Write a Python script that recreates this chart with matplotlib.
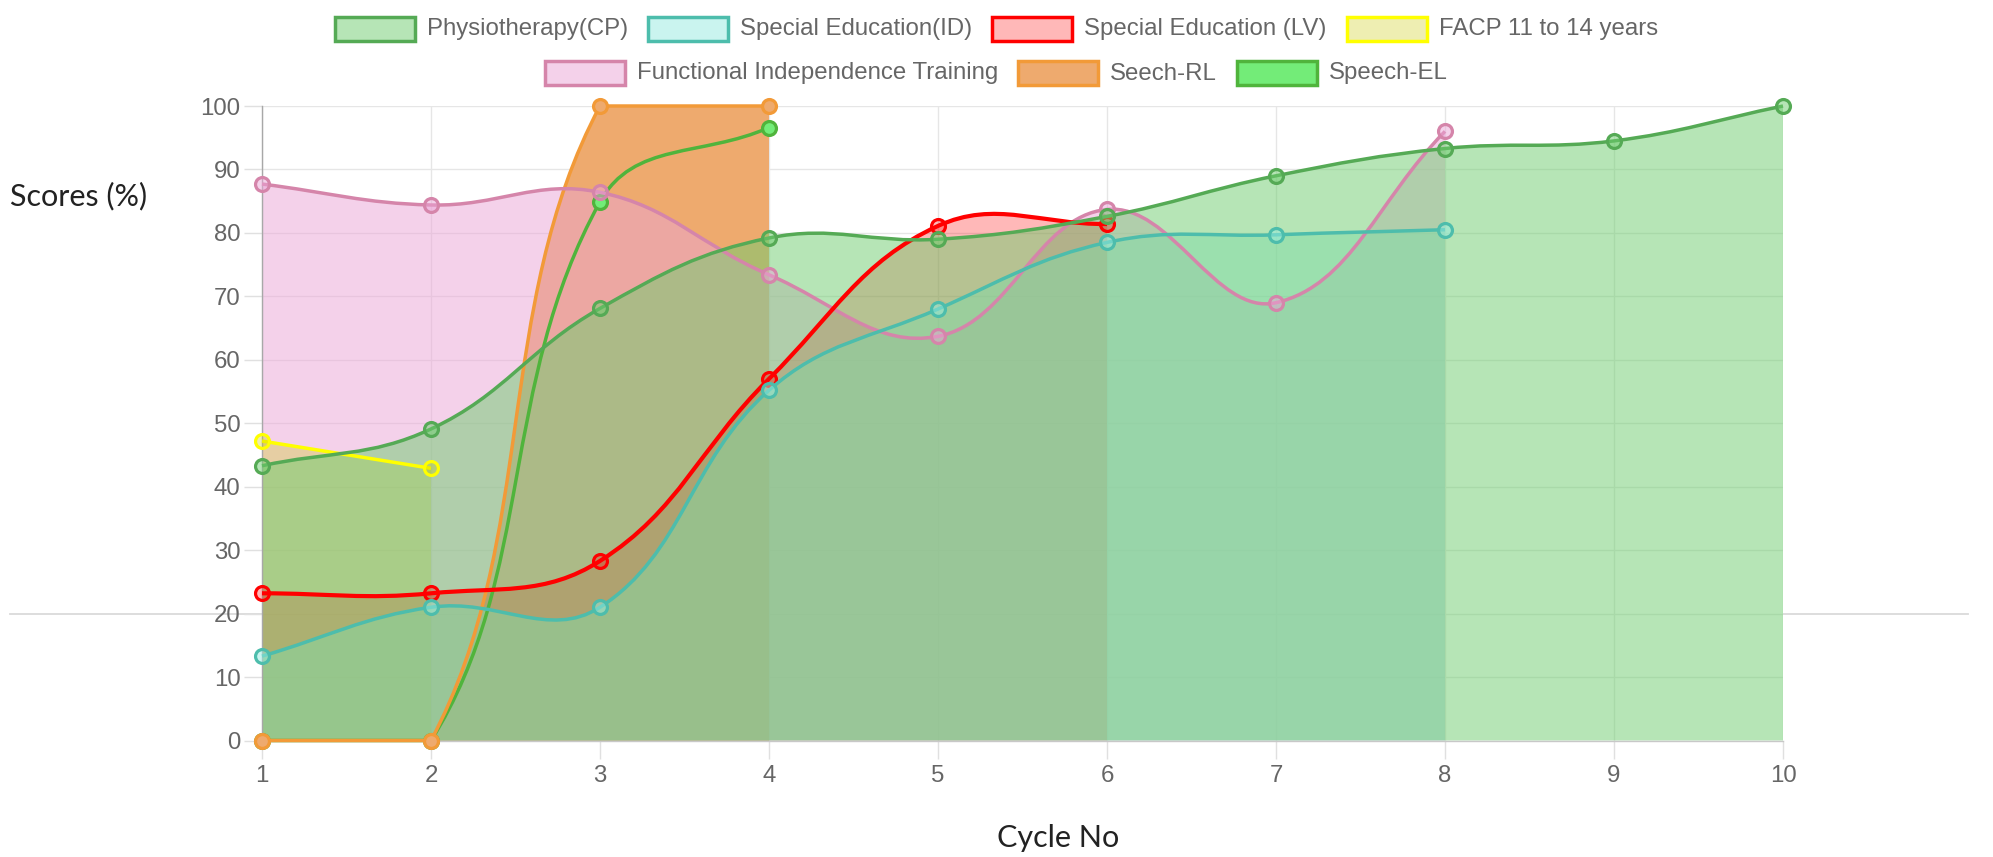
import matplotlib
matplotlib.use("Agg")
import matplotlib.pyplot as plt
import matplotlib.font_manager as fm
from matplotlib.path import Path
from matplotlib.patches import PathPatch, Rectangle
from matplotlib.lines import Line2D
import numpy as np

# ---------------- data ----------------
cycles = [1, 2, 3, 4, 5, 6, 7, 8, 9, 10]
physio = [43.3, 49.1, 68.1, 79.2, 79.0, 82.6, 89.0, 93.3, 94.5, 100.0]
spec_id = [13.3, 21.0, 21.0, 55.2, 68.0, 78.5, 79.7, 80.5]
spec_lv = [23.2, 23.2, 28.3, 57.0, 81.1, 81.4]
facp = [47.2, 42.9]
fit = [87.7, 84.4, 86.4, 73.4, 63.7, 83.7, 69.0, 96.0]
seech_rl = [0, 0, 100, 100]
speech_el = [0, 0, 84.9, 96.6]

labels = ["Physiotherapy(CP)", "Special Education(ID)", "Special Education (LV)",
          "FACP 11 to 14 years", "Functional Independence Training", "Seech-RL", "Speech-EL"]
series = [physio, spec_id, spec_lv, facp, fit, seech_rl, speech_el]
line_colors = ["#55aa55", "#4dbdac", "#ff0000", "#ffff00", "#d585aa", "#f29a38", "#50b43c"]
fill_colors = [(110/255, 205/255, 110/255, 0.5),
               (150/255, 235/255, 225/255, 0.5),
               (1.0, 0.0, 0.0, 0.28),
               (200/255, 200/255, 0.0, 0.3),
               (235/255, 165/255, 215/255, 0.5),
               (238/255, 170/255, 110/255, 1.0),
               (115/255, 236/255, 120/255, 1.0)]
y_ticks = [0, 10, 20, 30, 40, 50, 60, 70, 80, 90, 100]

# ---------------- fonts ----------------
names = {f.name for f in fm.fontManager.ttflist}
tick_font = "Liberation Sans" if "Liberation Sans" in names else "DejaVu Sans"
tick_px = 24
tick_pt = tick_px * 72 / 100
title_font = "Lato" if "Lato" in names else "DejaVu Sans"

W, H = 1993, 857
fig = plt.figure(figsize=(W / 100, H / 100), dpi=100)
fig.patch.set_facecolor("white")
L, R, B, T = 262, 1783, 740.5, 106
ax = fig.add_axes([L / W, 1 - B / H, (R - L) / W, (B - T) / H])
ax.set_xlim(1, 10)
ax.set_ylim(0, 100)
ax.set_xticks(cycles)
ax.set_yticks(y_ticks)
ax.set_xticklabels([str(c) for c in cycles], fontfamily=tick_font, fontsize=tick_pt)
ax.set_yticklabels([str(v) for v in y_ticks], fontfamily=tick_font, fontsize=tick_pt)
ax.tick_params(axis="both", length=13, width=1.0, color="#e0e0e0", labelcolor="#666666")
ax.tick_params(axis="y", pad=2.5)
ax.tick_params(axis="x", pad=4.5)
ax.grid(True, color="#e6e6e6", lw=1.0)
ax.set_axisbelow(True)
for s in ["top", "right"]:
    ax.spines[s].set_visible(False)
ax.spines["left"].set_color("#a8a8a8")
ax.spines["left"].set_linewidth(1.0)
ax.spines["bottom"].set_color("#c8c8c8")
ax.spines["bottom"].set_linewidth(1.0)


def chartjs_verts(xs, ys, tension=0.4):
    tr = ax.transData
    pts = tr.transform(np.column_stack([xs, ys]).astype(float))
    ax0, ay0 = tr.transform((1, 0))
    ax1, ay1 = tr.transform((10, 100))
    n = len(pts)
    cps, cns = [], []
    for i in range(n):
        cur = pts[i]
        prev = pts[i - 1] if i > 0 else cur
        nxt = pts[i + 1] if i < n - 1 else cur
        d01 = np.hypot(*(cur - prev))
        d12 = np.hypot(*(nxt - cur))
        tot = d01 + d12
        s01 = d01 / tot if tot else 0
        s12 = d12 / tot if tot else 0
        cp = cur - tension * s01 * (nxt - prev)
        cn = cur + tension * s12 * (nxt - prev)
        for c in (cp, cn):
            c[0] = min(max(c[0], ax0), ax1)
            c[1] = min(max(c[1], ay0), ay1)
        cps.append(cp)
        cns.append(cn)
    verts = [pts[0]]
    codes = [Path.MOVETO]
    for i in range(n - 1):
        verts += [cns[i], cps[i + 1], pts[i + 1]]
        codes += [Path.CURVE4] * 3
    inv = tr.inverted()
    return [tuple(v) for v in inv.transform(np.array(verts))], codes


n_series = len(series)
# fills (drawn last dataset first, first dataset on top)
for k in range(n_series - 1, -1, -1):
    ys = series[k]
    xs = cycles[:len(ys)]
    verts, codes = chartjs_verts(xs, ys)
    fverts = verts + [(xs[-1], 0), (xs[0], 0), verts[0]]
    fcodes = codes + [Path.LINETO, Path.LINETO, Path.CLOSEPOLY]
    ax.add_patch(PathPatch(Path(fverts, fcodes), facecolor=fill_colors[k],
                           edgecolor="none", zorder=1 + (n_series - k) * 0.01))
# lines and points
for k in range(n_series - 1, -1, -1):
    ys = series[k]
    xs = cycles[:len(ys)]
    verts, codes = chartjs_verts(xs, ys)
    z = 3 + (n_series - k) * 0.1
    lw = 3.0 if k == 2 else 2.5
    ax.add_patch(PathPatch(Path(verts, codes), facecolor="none", edgecolor=line_colors[k],
                           lw=lw, zorder=z, clip_on=False, capstyle="butt", joinstyle="miter"))
    ax.plot(xs, ys, ls="none", marker="o", ms=10, mew=2.3, mec=line_colors[k],
            mfc=fill_colors[k], zorder=z + 0.05, clip_on=False)

# stray horizontal line at 20 across the page
fy = fig.transFigure.inverted().transform(ax.transData.transform((1, 20)))[1]
fig.add_artist(Line2D([10 / W, 1968 / W], [fy, fy], transform=fig.transFigure,
                      color="#dadada", lw=1.3, zorder=-1))

# axis titles
fig.text(10 / W, 1 - 196 / H, "Scores (%)", fontfamily=title_font, fontsize=22,
         color="#222222", ha="left", va="center")
fig.text(1058 / W, 1 - 838 / H, "Cycle No", fontfamily=title_font, fontsize=22,
         color="#222222", ha="center", va="center")

# legend (Chart.js style)
renderer = fig.canvas.get_renderer()
box_w, box_h, gap, pad = 80, 24, 12, 20
rows = [[0, 1, 2, 3], [4, 5, 6]]
row_y = [29, 73]
for r, idxs in enumerate(rows):
    widths = []
    for i in idxs:
        t = fig.text(0, 0, labels[i], fontfamily=tick_font, fontsize=tick_pt)
        widths.append(t.get_window_extent(renderer).width)
        t.remove()
    total = sum(box_w + gap + w for w in widths) + pad * (len(idxs) - 1)
    x = (W - total) / 2
    yc = row_y[r]
    for i, w in zip(idxs, widths):
        fig.add_artist(Rectangle((x / W, 1 - (yc + box_h / 2) / H), box_w / W, box_h / H,
                                 transform=fig.transFigure, facecolor=fill_colors[i],
                                 edgecolor=line_colors[i], lw=2.5))
        fig.text((x + box_w + gap) / W, 1 - (yc - 2) / H, labels[i], fontfamily=tick_font,
                 fontsize=tick_pt, color="#666666", ha="left", va="center_baseline")
        x += box_w + gap + w + pad

fig.savefig("out.png", dpi=100, facecolor="white")
